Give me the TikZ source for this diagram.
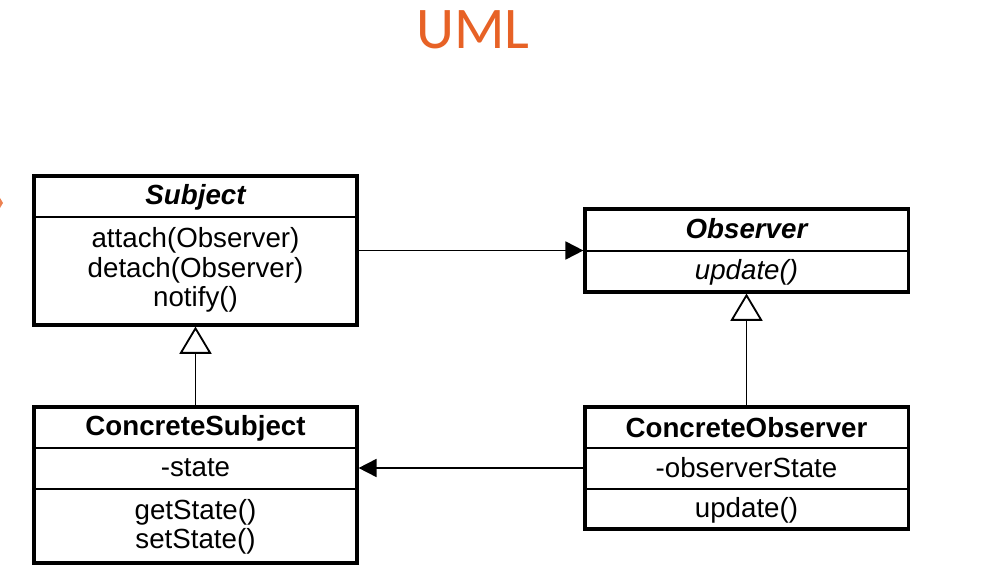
\documentclass[tikz,border=0pt]{standalone}
\usepackage{fontspec}
\setmainfont{Liberation Sans}
\newfontfamily\titlefont{Carlito}
\usepackage{tikz}
\usetikzlibrary{arrows.meta, positioning, calc}
\definecolor{umlorange}{RGB}{231, 98, 38}

\begin{document}
\begin{tikzpicture}[x=0.025cm, y=-0.025cm,
  classbox/.style={draw, line width=2.2pt, fill=white, inner sep=0pt, minimum width=8.075cm},
  divider/.style={line width=2pt},
  member/.style={font=\fontsize{19.7}{21}\selectfont, align=center, inner sep=0pt},
  classname/.style={member, font=\fontsize{19.7}{21}\selectfont\bfseries},
  assoc/.style={line width=1.3pt, -{Triangle[length=0.45cm, width=0.45cm]}},
  inherit/.style={line width=1.3pt, -{Triangle[open, fill=white, length=0.68cm, width=0.8cm]}}]
  \useasboundingbox (0,0) rectangle (1002,577);

  % Title
  \node[font=\titlefont\fontsize{42}{42}\selectfont, text=umlorange] (title) at (473, 30) {UML};
  \fill[umlorange!80] (0, 198) -- (3, 203) -- (0, 208) -- cycle;

  % Subject
  \node[classbox, minimum height=3.725cm] (subject) at (195.5, 250.5) {};
  \draw[divider] (subject.west |- 0, 217) -- (subject.east |- 0, 217);
  \node[classname, font=\fontsize{19.7}{21}\selectfont\bfseries\itshape] (subjectname) at (195.5, 197) {Subject};
  \node[member] (subjectops) at (195.5, 270) {attach(Observer)\\detach(Observer)\\notify()};

  % Observer
  \node[classbox, minimum height=2.075cm] (observer) at (746.5, 250.5) {};
  \draw[divider] (observer.west |- 0, 251) -- (observer.east |- 0, 251);
  \node[classname, font=\fontsize{19.7}{21}\selectfont\bfseries\itshape] (observername) at (746.5, 229) {Observer};
  \node[member, font=\fontsize{19.7}{21}\selectfont\itshape] (observerops) at (746.5, 272) {update()};

  % ConcreteSubject
  \node[classbox, minimum height=3.9cm] (csubject) at (195.5, 485) {};
  \draw[divider] (csubject.west |- 0, 448) -- (csubject.east |- 0, 448);
  \draw[divider] (csubject.west |- 0, 489) -- (csubject.east |- 0, 489);
  \node[classname] (csubjectname) at (195.5, 428) {ConcreteSubject};
  \node[member] (csubjectattr) at (195.5, 468) {-state};
  \node[member] (csubjectops) at (195.5, 527) {getState()\\setState()};

  % ConcreteObserver
  \node[classbox, minimum height=3.05cm] (cobserver) at (746.5, 468) {};
  \draw[divider] (cobserver.west |- 0, 448) -- (cobserver.east |- 0, 448);
  \draw[divider] (cobserver.west |- 0, 489) -- (cobserver.east |- 0, 489);
  \node[classname] (cobservername) at (746.5, 428) {ConcreteObserver};
  \node[member] (cobserverattr) at (746.5, 468) {-observerState};
  \node[member] (cobserverops) at (746.5, 510) {update()};

  % Connectors
  \draw[assoc] (subject) -- (observer);
  \draw[assoc] (cobserver.west) -- (csubject.east |- cobserver.west);
  \draw[inherit] (csubject.north) -- (subject.south);
  \draw[inherit] (cobserver.north) -- (observer.south);
\end{tikzpicture}
\end{document}
